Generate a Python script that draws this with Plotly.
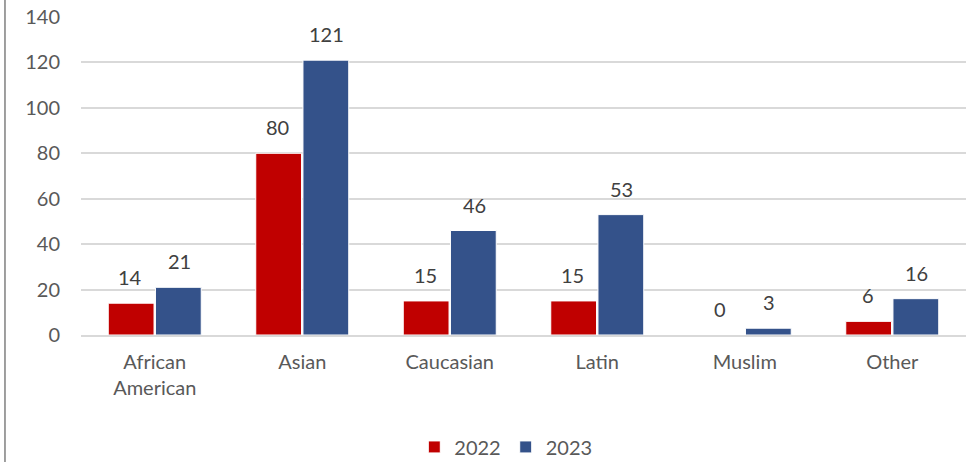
import plotly.graph_objects as go

categories = ['African<br>American', 'Asian', 'Caucasian', 'Latin', 'Muslim', 'Other']
values_2022 = [14, 80, 15, 15, 0, 6]
values_2023 = [21, 121, 46, 53, 3, 16]
y_ticks = [0, 20, 40, 60, 80, 100, 120, 140]

RED = '#C00000'
BLUE = '#34528A'
FONT = 'Lato'
SIZE = 20


def main():
	fig = go.Figure()
	series = [('2022', values_2022, RED, -24.5), ('2023', values_2023, BLUE, 24.5)]
	for name, vals, color, shift in series:
		fig.add_trace(go.Bar(
			x=categories, y=vals, name=name,
			marker=dict(color=color, line=dict(color='white', width=1)),
		))
		# data labels sit a little above each bar
		for cat, v in zip(categories, vals):
			fig.add_annotation(x=cat, y=v, text=str(v), showarrow=False,
							   xshift=shift, yshift=26, yanchor='middle',
							   font=dict(size=SIZE, color='#404040', family=FONT))

	fig.update_layout(
		width=970, height=462,
		margin=dict(l=81, r=4, t=17, b=127, autoexpand=False),
		plot_bgcolor='white', paper_bgcolor='white',
		barmode='group', bargap=0.36, bargroupgap=0.03,
		font=dict(family=FONT, size=SIZE, color='#595959'),
		showlegend=True,
		legend=dict(orientation='h', x=0.48, xanchor='center', y=-0.352, yanchor='middle',
					font=dict(size=SIZE, color='#595959'), traceorder='normal'),
	)
	fig.update_yaxes(range=[0, 140], tickvals=y_ticks, showgrid=True, gridcolor='#D9D9D9',
					 gridwidth=1.5, zeroline=False, showline=False, ticks='', ticklabelstandoff=20,
					 automargin=False, tickfont=dict(size=SIZE, color='#595959'))
	fig.update_xaxes(showline=True, linecolor='#D9D9D9', linewidth=1.5, ticks='',
					 automargin=False, tickfont=dict(size=SIZE, color='#595959'), ticklabelstandoff=8)
	# frame edge on the left
	fig.add_shape(type='line', xref='paper', yref='paper', x0=-0.0859, x1=-0.0859,
				  y0=-0.4, y1=1.06, line=dict(color='#7F7F7F', width=1.5))
	fig.write_html('out.html', config={'displayModeBar': False},
				   post_script="document.body.style.margin='0';")


if __name__ == '__main__':
	main()
